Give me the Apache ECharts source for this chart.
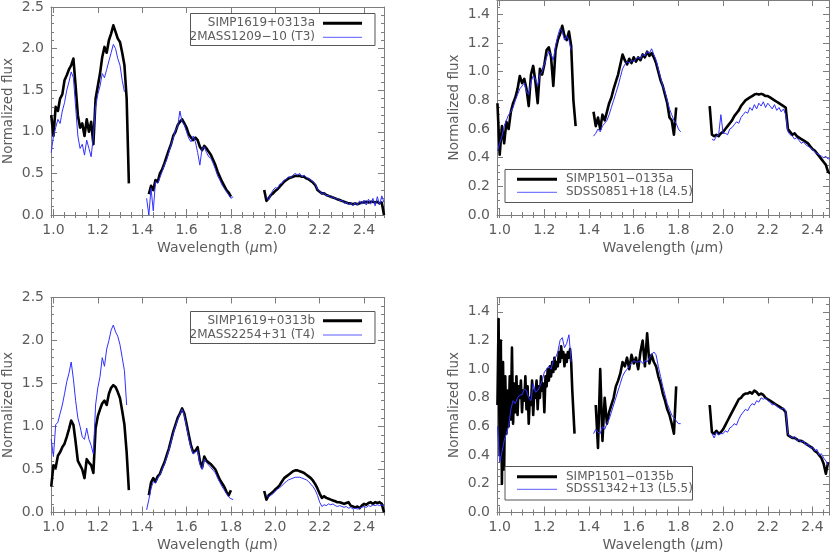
<!DOCTYPE html>
<html><head><meta charset="utf-8">
<script src="https://cdn.jsdelivr.net/npm/echarts@6/dist/echarts.min.js"></script>
<style>html,body{margin:0;padding:0;background:#fff}#c{width:830px;height:555px}</style>
</head><body><div id="c"></div>
<script>
// ---------------- data (normalized flux vs wavelength in micron) ----------------
const xTitle = 'Wavelength ({mu|μ}m)';
const yTitle = 'Normalized flux';
const legendNames = [
  ['SIMP1619+0313a', '2MASS1209−10 (T3)'],
  ['SIMP1501−0135a', 'SDSS0851+18 (L4.5)'],
  ['SIMP1619+0313b', '2MASS2254+31 (T4)'],
  ['SIMP1501−0135b', 'SDSS1342+13 (L5.5)']
];
// segment start wavelengths [J, H, K] and sampling steps [J, H, K]
const p1_bk_start = [0.99, 1.43, 1.95], p1_bl_start = [0.99, 1.42, 1.96];
const p2_bk_start = [0.99, 1.42, 1.94], p2_bl_start = [0.99, 1.42, 1.95];
const p3_bk_start = [0.99, 1.43, 1.95], p3_bl_start = [0.99, 1.42, 1.96];
const p4_bk_start = [0.99, 1.43, 1.94], p4_bl_start = [0.99, 1.42, 1.95];
const stepStd = [0.01, 0.01, 0.01];
const stepFineJ = [0.005, 0.01, 0.01];

// Panel 1: SIMP1619+0313a (black) vs 2MASS1209-10 (blue)
const p1_bk_J = [1.20,0.95,1.30,1.25,1.40,1.45,1.62,1.68,1.75,1.80,1.88,1.55,1.20,1.05,1.10,0.95,1.15,1.00,1.12,0.85,1.40,1.55,1.70,1.90,2.02,1.95,2.10,2.18,2.28,2.20,2.12,2.08,1.95,1.80,1.40,0.38];
const p1_bk_H = [0.25,0.35,0.30,0.42,0.40,0.50,0.55,0.62,0.70,0.78,0.85,0.95,1.00,1.08,1.12,1.15,1.10,1.05,0.97,0.93,0.90,0.93,0.90,0.82,0.78,0.83,0.80,0.76,0.72,0.66,0.60,0.52,0.46,0.40,0.35,0.30,0.27,0.22];
const p1_bk_K = [0.30,0.17,0.20,0.24,0.26,0.29,0.31,0.34,0.37,0.40,0.42,0.44,0.45,0.46,0.47,0.47,0.47,0.46,0.46,0.44,0.43,0.41,0.39,0.36,0.30,0.28,0.26,0.26,0.24,0.23,0.22,0.21,0.20,0.19,0.18,0.17,0.16,0.15,0.14,0.14,0.13,0.14,0.13,0.14,0.15,0.15,0.16,0.15,0.16,0.16,0.15,0.16,0.14,0.15,0.00];
const p1_bl_J = [0.75,0.95,1.05,1.15,1.10,1.25,1.35,1.50,1.60,1.72,1.65,1.30,0.95,0.80,0.85,0.72,0.90,0.80,0.70,0.95,1.30,1.45,1.55,1.70,1.65,1.75,1.85,1.95,2.05,2.00,1.88,1.80,1.62,1.48];
const p1_bl_H = [0.20,0.00,0.32,0.05,0.40,0.38,0.45,0.52,0.60,0.66,0.75,0.84,0.92,1.02,1.06,1.25,1.12,1.08,1.00,0.92,0.88,0.95,0.88,0.75,0.60,0.80,0.82,0.75,0.70,0.68,0.62,0.55,0.47,0.42,0.36,0.32,0.28,0.24,0.20,0.22];
const p1_bl_K = [0.22,0.18,0.25,0.30,0.33,0.32,0.37,0.38,0.42,0.43,0.46,0.45,0.48,0.50,0.48,0.50,0.46,0.48,0.45,0.44,0.42,0.40,0.37,0.31,0.29,0.25,0.27,0.23,0.24,0.21,0.22,0.19,0.20,0.17,0.18,0.14,0.16,0.12,0.15,0.11,0.15,0.12,0.17,0.13,0.18,0.12,0.19,0.13,0.20,0.11,0.22,0.12,0.23,0.15];

// Panel 2: SIMP1501-0135a (black) vs SDSS0851+18 (blue)
const p2_bk_J = [0.78,0.42,0.62,0.50,0.65,0.60,0.72,0.78,0.82,0.88,0.97,0.92,0.95,0.88,0.76,0.98,1.04,0.93,0.78,1.02,0.98,1.05,1.15,1.17,1.10,0.90,1.15,1.22,1.26,1.32,1.25,1.22,1.28,1.18,0.80,0.62];
const p2_bk_H = [0.72,0.62,0.68,0.60,0.70,0.66,0.72,0.78,0.82,0.88,0.93,0.98,1.05,1.12,1.08,1.05,1.09,1.06,1.10,1.07,1.10,1.08,1.12,1.10,1.14,1.11,1.13,1.10,1.06,1.00,0.94,0.90,0.84,0.78,0.68,0.66,0.56,0.75];
const p2_bk_K = [0.76,0.56,0.55,0.56,0.55,0.57,0.58,0.60,0.62,0.64,0.66,0.69,0.71,0.73,0.76,0.78,0.80,0.81,0.82,0.83,0.84,0.845,0.84,0.845,0.84,0.83,0.83,0.82,0.81,0.80,0.79,0.78,0.77,0.76,0.75,0.60,0.58,0.56,0.57,0.55,0.54,0.53,0.52,0.51,0.50,0.48,0.46,0.45,0.43,0.41,0.39,0.37,0.35,0.30,0.29];
const p2_bl_J = [0.45,0.50,0.55,0.62,0.66,0.70,0.72,0.75,0.80,0.84,0.88,0.90,0.92,0.86,0.84,0.93,0.97,0.95,0.90,0.98,1.00,1.05,1.10,1.14,1.12,1.08,1.18,1.25,1.30,1.28,1.22,1.25,1.22,1.15];
const p2_bl_H = [0.55,0.57,0.60,0.58,0.62,0.64,0.66,0.70,0.75,0.80,0.85,0.90,0.96,1.02,1.05,1.07,1.06,1.08,1.07,1.09,1.10,1.09,1.12,1.11,1.14,1.13,1.16,1.12,1.08,1.02,0.96,0.90,0.86,0.80,0.74,0.70,0.66,0.64,0.60,0.58];
const p2_bl_K = [0.53,0.52,0.55,0.56,0.70,0.57,0.57,0.56,0.60,0.61,0.63,0.65,0.64,0.68,0.70,0.72,0.71,0.75,0.73,0.77,0.74,0.78,0.76,0.79,0.75,0.78,0.76,0.74,0.77,0.73,0.75,0.72,0.74,0.70,0.58,0.56,0.55,0.53,0.54,0.52,0.50,0.51,0.49,0.48,0.47,0.46,0.44,0.43,0.42,0.41,0.40,0.41,0.39,0.40];

// Panel 3: SIMP1619+0313b (black) vs 2MASS2254+31 (blue)
const p3_bk_J = [0.30,0.55,0.52,0.66,0.70,0.76,0.80,0.88,0.97,1.07,1.02,0.82,0.60,0.55,0.50,0.40,0.62,0.58,0.55,0.46,0.98,1.12,1.20,1.27,1.30,1.25,1.38,1.45,1.48,1.46,1.40,1.33,1.18,1.02,0.70,0.26];
const p3_bk_H = [0.20,0.35,0.40,0.36,0.42,0.45,0.52,0.58,0.66,0.74,0.84,0.94,1.02,1.10,1.15,1.21,1.15,1.03,0.90,0.78,0.70,0.72,0.76,0.60,0.52,0.65,0.60,0.58,0.56,0.53,0.50,0.44,0.38,0.34,0.30,0.24,0.20,0.26];
const p3_bk_K = [0.25,0.15,0.20,0.22,0.24,0.27,0.29,0.32,0.36,0.40,0.42,0.44,0.46,0.48,0.49,0.49,0.48,0.47,0.46,0.44,0.42,0.40,0.37,0.33,0.28,0.22,0.17,0.19,0.17,0.16,0.15,0.14,0.13,0.12,0.12,0.11,0.10,0.11,0.12,0.08,0.07,0.06,0.07,0.05,0.08,0.10,0.09,0.11,0.12,0.10,0.12,0.11,0.12,0.10,0.00];
const p3_bl_J = [0.85,0.65,1.02,1.05,1.15,1.25,1.38,1.52,1.62,1.75,1.55,1.30,1.10,1.00,0.88,0.85,0.98,0.85,0.78,0.68,1.25,1.45,1.58,1.80,1.70,1.90,2.00,2.12,2.18,2.10,2.05,1.95,1.80,1.65,1.25];
const p3_bl_H = [0.03,0.15,0.28,0.36,0.34,0.40,0.44,0.50,0.56,0.64,0.72,0.82,0.92,1.00,1.08,1.14,1.20,1.13,1.00,0.86,0.76,0.68,0.70,0.72,0.56,0.50,0.62,0.58,0.55,0.52,0.49,0.46,0.40,0.35,0.30,0.26,0.22,0.18,0.16,0.15];
const p3_bl_K = [0.20,0.18,0.20,0.22,0.25,0.27,0.29,0.31,0.34,0.36,0.38,0.39,0.40,0.41,0.41,0.41,0.40,0.39,0.38,0.36,0.33,0.30,0.26,0.20,0.12,0.07,0.09,0.08,0.10,0.09,0.10,0.08,0.07,0.08,0.07,0.06,0.07,0.05,0.06,0.04,0.05,0.04,0.05,0.06,0.07,0.06,0.08,0.07,0.09,0.08,0.09,0.08,0.09,0.08];

// Panel 4: SIMP1501-0135b (black, J sampled every 0.005) vs SDSS1342+13 (blue)
const p4_bk_J = [0.75,1.35,0.40,1.20,0.20,1.05,0.30,0.95,0.55,0.85,0.60,0.95,0.65,1.15,0.62,0.90,0.70,0.95,0.68,0.88,0.80,0.92,0.70,0.85,0.78,0.95,0.72,0.88,0.62,0.80,0.75,0.92,0.68,0.85,0.80,0.92,0.72,0.88,0.80,0.95,0.85,0.90,0.70,0.95,0.88,1.00,0.92,1.02,0.95,1.05,0.98,1.08,1.00,1.05,1.02,1.12,1.05,1.16,1.08,1.12,1.02,1.10,1.05,1.12,1.08,1.14,1.05,0.85,0.70,0.55];
const p4_bk_H = [0.75,0.45,1.00,0.50,0.80,0.62,0.70,0.75,0.80,0.88,0.92,0.97,1.05,1.02,1.08,1.00,1.10,1.04,1.08,1.00,1.12,1.20,1.02,1.25,1.04,1.10,1.05,1.02,0.95,0.90,0.83,0.78,0.72,0.68,0.62,0.55,0.88];
const p4_bk_K = [0.75,0.56,0.55,0.57,0.55,0.56,0.58,0.61,0.64,0.67,0.70,0.73,0.76,0.79,0.80,0.82,0.83,0.83,0.84,0.83,0.85,0.84,0.82,0.83,0.82,0.80,0.79,0.78,0.77,0.76,0.75,0.74,0.73,0.72,0.70,0.54,0.53,0.52,0.52,0.51,0.50,0.50,0.49,0.48,0.47,0.46,0.45,0.43,0.42,0.40,0.38,0.34,0.27,0.35];
const p4_bl_J = [0.60,0.35,0.42,0.50,0.55,0.60,0.72,0.78,0.76,0.80,0.82,0.82,0.86,0.85,0.80,0.78,0.90,0.84,0.85,0.88,0.92,0.98,1.00,1.02,1.00,1.06,1.08,1.12,1.20,1.22,1.15,1.18,1.24,1.05];
const p4_bl_H = [0.55,0.58,0.56,0.55,0.60,0.58,0.62,0.65,0.70,0.75,0.80,0.85,0.90,0.95,0.98,1.00,1.02,1.04,1.06,1.05,1.05,1.06,1.04,1.06,1.05,1.08,1.10,1.12,1.10,1.02,0.95,0.88,0.82,0.76,0.72,0.68,0.66,0.64,0.62,0.62];
const p4_bl_K = [0.55,0.52,0.56,0.54,0.55,0.55,0.57,0.56,0.59,0.60,0.62,0.61,0.65,0.68,0.70,0.72,0.71,0.74,0.76,0.75,0.78,0.77,0.80,0.79,0.80,0.78,0.77,0.75,0.76,0.74,0.73,0.72,0.73,0.71,0.55,0.53,0.52,0.53,0.50,0.51,0.49,0.50,0.47,0.48,0.45,0.46,0.43,0.44,0.40,0.41,0.38,0.36,0.33];

// ---------------- build ----------------
function spectrum(starts, steps, segs) {
  const out = [];
  segs.forEach((vals, s) => {
    if (s > 0) out.push([+(starts[s] - 0.02).toFixed(3), null]);
    vals.forEach((v, i) => out.push([+(starts[s] + i * steps[s]).toFixed(4), v]));
  });
  return out;
}
const panels = [
  { bk: spectrum(p1_bk_start, stepStd, [p1_bk_J, p1_bk_H, p1_bk_K]), bl: spectrum(p1_bl_start, stepStd, [p1_bl_J, p1_bl_H, p1_bl_K]) },
  { bk: spectrum(p2_bk_start, stepStd, [p2_bk_J, p2_bk_H, p2_bk_K]), bl: spectrum(p2_bl_start, stepStd, [p2_bl_J, p2_bl_H, p2_bl_K]) },
  { bk: spectrum(p3_bk_start, stepStd, [p3_bk_J, p3_bk_H, p3_bk_K]), bl: spectrum(p3_bl_start, stepStd, [p3_bl_J, p3_bl_H, p3_bl_K]) },
  { bk: spectrum(p4_bk_start, stepFineJ, [p4_bk_J, p4_bk_H, p4_bk_K]), bl: spectrum(p4_bl_start, stepStd, [p4_bl_J, p4_bl_H, p4_bl_K]) }
];

const AX = '#7d7d7d', TX = '#5c5c5c', FONT = 'DejaVu Sans';
const grids = [
  { left: 51, top: 0, width: 333, height: 215 },
  { left: 497, top: 0, width: 332, height: 215 },
  { left: 51, top: 297.5, width: 333, height: 215 },
  { left: 497, top: 297.5, width: 332, height: 215 }
];
const xRange = [[0.989, 2.49], [0.988, 2.474], [0.989, 2.49], [0.988, 2.474]];
const yRange = [[0, 2.5, 0.5, 0.1, true], [0, 1.5, 0.2, 0.05, false], [0, 2.5, 0.5, 0.1, true], [0, 1.5, 0.2, 0.05, false]];

const xAxis = [], yAxis = [], series = [], graphic = [];
grids.forEach((g, gi) => {
  const [xmn, xmx] = xRange[gi];
  const xb = { type: 'value', gridIndex: gi, min: xmn, max: xmx, splitLine: { show: false },
    axisLine: { show: true, onZero: false, lineStyle: { color: AX, width: 1 } } };
  xAxis.push(
    Object.assign({}, xb, { position: 'bottom', splitNumber: 7,
      axisTick: { inside: true, length: 6, lineStyle: { color: AX } },
      axisLabel: { margin: 8, color: TX, fontFamily: FONT, fontSize: 14, showMinLabel: false, showMaxLabel: false, formatter: v => v.toFixed(1) },
      name: xTitle, nameLocation: 'middle', nameGap: 26,
      nameTextStyle: { color: TX, fontFamily: FONT, fontSize: 14, rich: { mu: { fontStyle: 'italic', color: TX, fontFamily: FONT, fontSize: 14 } } } }),
    Object.assign({}, xb, { position: 'bottom', splitNumber: 30, axisLine: { show: false },
      axisTick: { inside: true, length: 3, lineStyle: { color: AX } }, axisLabel: { show: false } }),
    Object.assign({}, xb, { position: 'top', splitNumber: 7,
      axisTick: { inside: true, length: 6, lineStyle: { color: AX } }, axisLabel: { show: false } }),
    Object.assign({}, xb, { position: 'top', splitNumber: 30, axisLine: { show: false },
      axisTick: { inside: true, length: 3, lineStyle: { color: AX } }, axisLabel: { show: false } })
  );
  const [ymn, ymx, yint, ymin, showMax] = yRange[gi];
  const yb = { type: 'value', gridIndex: gi, min: ymn, max: ymx, splitLine: { show: false },
    axisLine: { show: true, onZero: false, lineStyle: { color: AX, width: 1 } } };
  yAxis.push(
    Object.assign({}, yb, { position: 'left', interval: yint,
      axisTick: { inside: true, length: 6, lineStyle: { color: AX } },
      axisLabel: { margin: 7, color: TX, fontFamily: FONT, fontSize: 14, showMaxLabel: showMax, formatter: v => v.toFixed(1) },
      name: yTitle, nameLocation: 'middle', nameGap: 36, nameRotate: 90,
      nameTextStyle: { color: TX, fontFamily: FONT, fontSize: 13.5 } }),
    Object.assign({}, yb, { position: 'left', interval: ymin, axisLine: { show: false },
      axisTick: { inside: true, length: 3, lineStyle: { color: AX } }, axisLabel: { show: false } }),
    Object.assign({}, yb, { position: 'right', interval: yint,
      axisTick: { inside: true, length: 6, lineStyle: { color: AX } }, axisLabel: { show: false } }),
    Object.assign({}, yb, { position: 'right', interval: ymin, axisLine: { show: false },
      axisTick: { inside: true, length: 3, lineStyle: { color: AX } }, axisLabel: { show: false } })
  );
  series.push(
    { type: 'line', name: legendNames[gi][0], xAxisIndex: gi * 4, yAxisIndex: gi * 4, data: panels[gi].bk,
      showSymbol: false, symbol: 'none', connectNulls: false, clip: true, z: 2,
      lineStyle: { color: '#000', width: 2.6, join: 'round' } },
    { type: 'line', name: legendNames[gi][1], xAxisIndex: gi * 4, yAxisIndex: gi * 4, data: panels[gi].bl,
      showSymbol: false, symbol: 'none', connectNulls: false, clip: true, z: 3,
      lineStyle: { color: '#3030ff', width: 1 } }
  );
});

// legend boxes (layout only)
const legendBoxes = [
  { x: 190.5, y: 13.5, w: 184.5, h: 32, r1: 23.3, r2: 37.3, lx0: 323, lx1: 362, tx: 315, align: 'right' },
  { x: 505, y: 169.5, w: 187.5, h: 33, r1: 179.3, r2: 192.3, lx0: 517, lx1: 557, tx: 566, align: 'left' },
  { x: 190.5, y: 311.5, w: 184.5, h: 32, r1: 320.7, r2: 335, lx0: 323, lx1: 362, tx: 315, align: 'right' },
  { x: 505, y: 466.5, w: 187.5, h: 33.5, r1: 476.7, r2: 489.3, lx0: 517, lx1: 557, tx: 566, align: 'left' }
];
legendBoxes.forEach((b, i) => {
  graphic.push(
    { type: 'rect', z: 10, shape: { x: b.x, y: b.y, width: b.w, height: b.h }, style: { fill: '#fff', stroke: '#555', lineWidth: 1 } },
    { type: 'line', z: 11, shape: { x1: b.lx0, y1: b.r1, x2: b.lx1, y2: b.r1 }, style: { stroke: '#000', lineWidth: 3 } },
    { type: 'line', z: 11, shape: { x1: b.lx0, y1: b.r2, x2: b.lx1, y2: b.r2 }, style: { stroke: '#5a5aff', lineWidth: 1 } },
    { type: 'text', z: 11, style: { text: legendNames[i][0], x: b.tx, y: b.r1, align: b.align, verticalAlign: 'middle', fill: TX, font: '12px "DejaVu Sans"' } },
    { type: 'text', z: 11, style: { text: legendNames[i][1], x: b.tx, y: b.r2, align: b.align, verticalAlign: 'middle', fill: TX, font: '12px "DejaVu Sans"' } }
  );
});

const chart = echarts.init(document.getElementById('c'), null, { renderer: 'canvas' });
chart.setOption({
  animation: false,
  backgroundColor: '#fff',
  grid: grids.map(g => Object.assign({ containLabel: false }, g)),
  xAxis, yAxis, series, graphic
});
</script></body></html>
